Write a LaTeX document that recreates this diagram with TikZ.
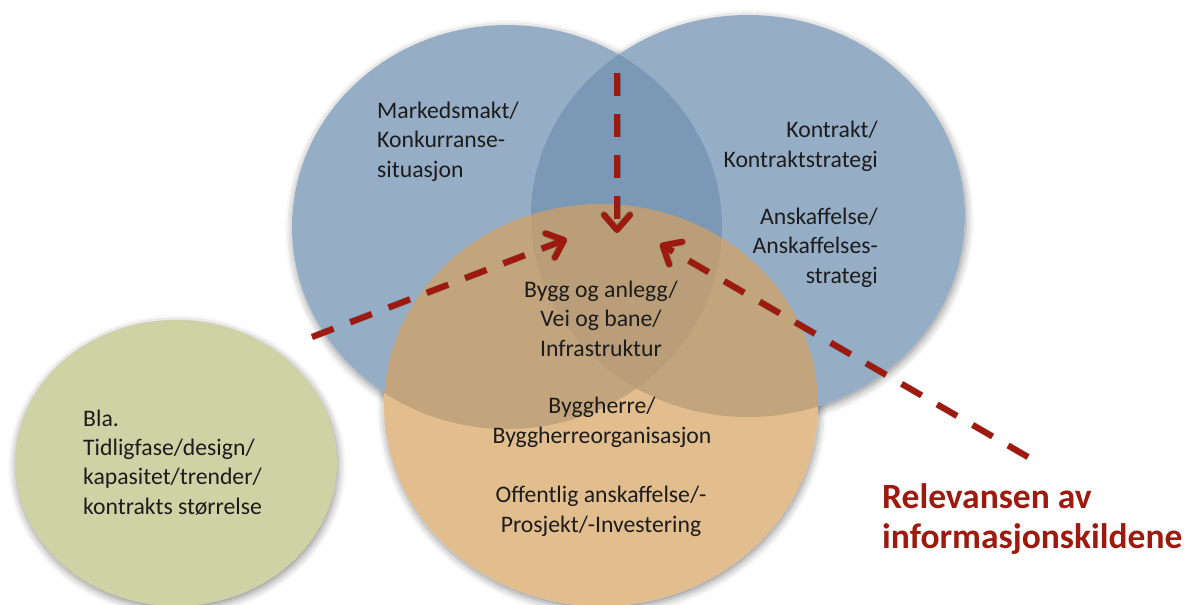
\documentclass[tikz,border=0pt]{standalone}
\usepackage{fontspec}
\setmainfont{Carlito}
\usetikzlibrary{arrows.meta,shadows.blur}

\definecolor{venblue}{RGB}{115,146,179}
\definecolor{venorange}{RGB}{214,161,95}
\definecolor{vengreen}{RGB}{205,211,165}
\definecolor{flowred}{RGB}{158,26,14}
\definecolor{ink}{RGB}{28,28,28}

\begin{document}
\begin{tikzpicture}[x=1pt,y=-1pt,
  softshadow/.style={blur shadow={shadow xshift=1pt, shadow yshift=-3pt,
      shadow blur radius=8pt, shadow opacity=45}},
  label/.style={font=\fontsize{23.7}{29.2}\selectfont, text=ink, inner sep=0pt},
  headline/.style={font=\fontsize{35.5}{40}\selectfont\bfseries, text=flowred, inner sep=0pt},
  flow/.style={draw=flowred, line width=6pt, dash pattern=on 23pt off 18pt,
      -{Straight Barb[length=15pt,width=26pt,line cap=round,line join=round]}},
  flowshade/.style={draw=black, draw opacity=0.22, line width=7pt,
      dash pattern=on 23pt off 18pt, xshift=1.5pt, yshift=-3pt,
      -{Straight Barb[length=15pt,width=26pt,line cap=round,line join=round]}}]

\useasboundingbox (0,0) rectangle (1189,605);

% ellipse geometry (centre, x radius, y radius)
\def\marketE{(507,227) ellipse [x radius=215pt, y radius=202pt]}
\def\contractE{(748,216) ellipse [x radius=217pt, y radius=201pt]}
\def\ownerE{(601,405) ellipse [x radius=217pt, y radius=201pt]}
\def\sourceE{(176,463) ellipse [x radius=161pt, y radius=143pt]}

\coordinate (cMarket) at (507,227);
\coordinate (cContract) at (748,216);
\coordinate (cOwner) at (601,405);
\coordinate (cSource) at (176,463);

% soft shadows, then a white base so they only show around the outer rims
\path[softshadow] \marketE;
\path[softshadow] \contractE;
\path[softshadow] \ownerE;
\path[softshadow] \sourceE;
\fill[white] \marketE;
\fill[white] \contractE;
\fill[white] \ownerE;

% translucent discs
\fill[venblue, fill opacity=0.75] \marketE;
\fill[venblue, fill opacity=0.75] \contractE;
\fill[venorange, fill opacity=0.7] \ownerE;
\fill[vengreen] \sourceE;

% converging arrows
\coordinate (topStart) at (617,73);
\coordinate (topTip) at (617,233);
\coordinate (leftStart) at (312,337);
\coordinate (leftTip) at (567,239);
\coordinate (rightStart) at (1028,457);
\coordinate (rightTip) at (660,244);

\draw[flowshade] (topStart) -- (topTip);
\draw[flowshade] (leftStart) -- (leftTip);
\draw[flowshade] (rightStart) -- (rightTip);
\draw[flow] (topStart) -- (topTip);
\draw[flow] (leftStart) -- (leftTip);
\draw[flow] (rightStart) -- (rightTip);

% texts (each node is placed by the baseline of its last line)
\node[label, anchor=base west, align=left] (market) at (377,177)
  {Markedsmakt/\\Konkurranse-\\situasjon};
\node[label, anchor=base east, align=right] (contract) at (878,167)
  {Kontrakt/\\Kontraktstrategi};
\node[label, anchor=base east, align=right] (procure) at (878,283)
  {Anskaffelse/\\Anskaffelses-\\strategi};
\node[label, anchor=base, align=center] (sector) at (601,356)
  {Bygg og anlegg/\\Vei og bane/\\Infrastruktur};
\node[label, anchor=base, align=center] (owner) at (602,443)
  {Byggherre/\\Byggherreorganisasjon};
\node[label, anchor=base, align=center] (public) at (601,532)
  {Offentlig anskaffelse/-\\Prosjekt/-Investering};
\node[label, anchor=base west, align=left] (other) at (83,514)
  {Bla.\\Tidligfase/design/\\kapasitet/trender/\\kontrakts størrelse};
\node[headline, anchor=base west, align=left] (relevance) at (882,548)
  {Relevansen av\\informasjonskildene};
\end{tikzpicture}
\end{document}
